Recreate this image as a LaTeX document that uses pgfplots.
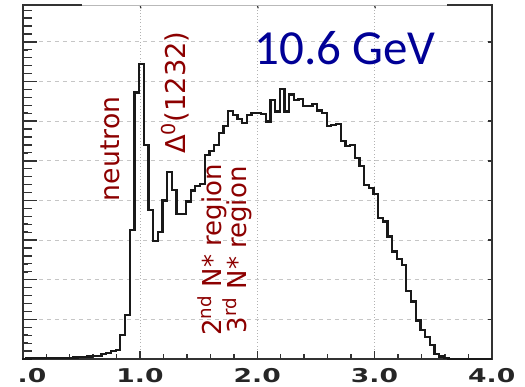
\documentclass[border=0pt]{standalone}
\usepackage{fontspec}
\usepackage{graphicx}
\usepackage{pgfplots}
\usepackage{pgfplotstable}
\pgfplotsset{compat=1.18}
\setmainfont{DejaVu Sans}
\newfontfamily\calib{Carlito}
\definecolor{lblred}{RGB}{140,0,0}
\definecolor{lblblue}{RGB}{0,0,150}
\definecolor{frame}{RGB}{50,50,50}
\pgfplotstableread{
x y
-0.008 0.0
0.032 0.01
0.072 0.02
0.112 0.02
0.152 0.02
0.192 0.02
0.232 0.02
0.272 0.03
0.312 0.03
0.352 0.03
0.392 0.03
0.432 0.04
0.472 0.05
0.512 0.05
0.552 0.06
0.592 0.07
0.632 0.08
0.672 0.12
0.712 0.15
0.752 0.20
0.792 0.23
0.832 0.60
0.872 1.11
0.912 3.26
0.952 6.72
0.992 7.45
1.032 5.39
1.072 3.75
1.112 2.98
1.152 3.20
1.192 4.00
1.232 4.71
1.272 4.27
1.312 3.66
1.352 3.66
1.392 3.97
1.432 4.25
1.472 4.37
1.512 4.42
1.552 5.15
1.592 5.25
1.632 5.40
1.672 5.70
1.712 5.88
1.752 6.26
1.792 6.15
1.832 6.05
1.872 5.95
1.912 6.16
1.952 6.20
1.992 6.20
2.032 6.18
2.072 5.99
2.112 6.54
2.152 6.24
2.192 6.81
2.232 6.24
2.272 6.67
2.312 6.54
2.352 6.56
2.392 6.39
2.432 6.39
2.472 6.44
2.512 6.27
2.552 6.20
2.592 5.87
2.632 5.91
2.672 5.93
2.712 5.49
2.752 5.38
2.792 5.40
2.832 5.07
2.872 4.86
2.912 4.39
2.952 4.31
2.992 4.17
3.032 3.55
3.072 3.47
3.112 3.09
3.152 2.71
3.192 2.52
3.232 2.37
3.272 1.72
3.312 1.45
3.352 0.97
3.392 0.73
3.432 0.56
3.472 0.35
3.512 0.13
3.552 0.06
3.592 0.02
3.632 0.00
4.000 0.00
}\histo
\begin{document}
\begin{tikzpicture}
\begin{axis}[
  scale only axis,
  width=351.7pt, height=265.5pt,
  xmin=0, xmax=4, ymin=0, ymax=8.93,
  /pgf/number format/assume math mode=true,
  axis line style={frame, line width=1.5pt},
  xtick={0,1,2,3,4},
  xticklabels={\phantom{0}.0,1.0,2.0,3.0,4.0},
  minor x tick num=4,
  ytick={0,1,2,3,4,5,6,7,8},
  minor y tick num=4,
  yticklabels={},
  xtick pos=bottom, ytick pos=left,
  tick align=inside,
  major tick length=6pt, minor tick length=4pt,
  tick style={frame, line width=1.1pt},
  xticklabel style={yshift=-3.5pt, text=black!85, font=\fontsize{14.25}{16}\selectfont\bfseries, xscale=1.4},
  xmajorgrids, ymajorgrids,
  x grid style={gray!60, dotted, line width=0.7pt},
  y grid style={gray!45, dashed, line width=0.6pt},
  clip=false,
]
\addplot[const plot, black!90, line width=1.7pt] table[x=x,y=y]{\histo};
% longer left ticks
\pgfplotsinvokeforeach{1,2,3,4,5,6,7,8}{
  \draw[frame, line width=1.1pt] (axis cs:0,#1) -- ++(9.75pt,0);
  \draw[frame, line width=1.1pt] (axis cs:4,#1) -- ++(-3.75pt,0);
}
\pgfplotsinvokeforeach{0,1,2,3,4,5,6,7,8}{
  \draw[frame, line width=0.9pt] (axis cs:0,{#1+0.2}) -- ++(6pt,0);
  \draw[frame, line width=0.9pt] (axis cs:0,{#1+0.4}) -- ++(6pt,0);
  \draw[frame, line width=0.9pt] (axis cs:0,{#1+0.6}) -- ++(6pt,0);
  \draw[frame, line width=0.9pt] (axis cs:0,{#1+0.8}) -- ++(6pt,0);
}
\pgfplotsinvokeforeach{1,2,3}{
  \draw[frame, line width=0.9pt] (axis cs:#1,8.93) -- ++(0,-2.5pt);
}
% lighter middle part of top frame
\draw[white, line width=1.6pt] (axis cs:0.505,8.93) -- (axis cs:3.62,8.93);
\draw[gray!55, line width=0.7pt] (axis cs:0.505,8.93) -- (axis cs:3.62,8.93);
% labels
\node[rotate=90, text=lblred, font=\fontsize{20}{22}\selectfont] at (axis cs:0.744,5.30) {neutron};
\node[rotate=90, text=lblred, font=\fontsize{20.5}{22}\selectfont] at (axis cs:1.30,6.72) {Δ\textsuperscript{0}(1232)};
\node[rotate=90, text=lblred, font=\fontsize{19.5}{22}\selectfont] at (axis cs:1.62,2.75) {2\textsuperscript{nd} N* region};
\node[rotate=90, text=lblred, font=\fontsize{19.5}{22}\selectfont] at (axis cs:1.83,2.75) {3\textsuperscript{rd} N* region};
\node[text=lblblue, font=\calib\fontsize{36.75}{40}\selectfont] at (axis cs:2.75,7.85) {10.6 GeV};
\end{axis}
\pgfresetboundingbox
\path[use as bounding box] ([xshift=-17.1pt,yshift=-21pt]current axis.south west) rectangle ([xshift=24.98pt,yshift=3.75pt]current axis.north east);
\end{tikzpicture}
\end{document}
